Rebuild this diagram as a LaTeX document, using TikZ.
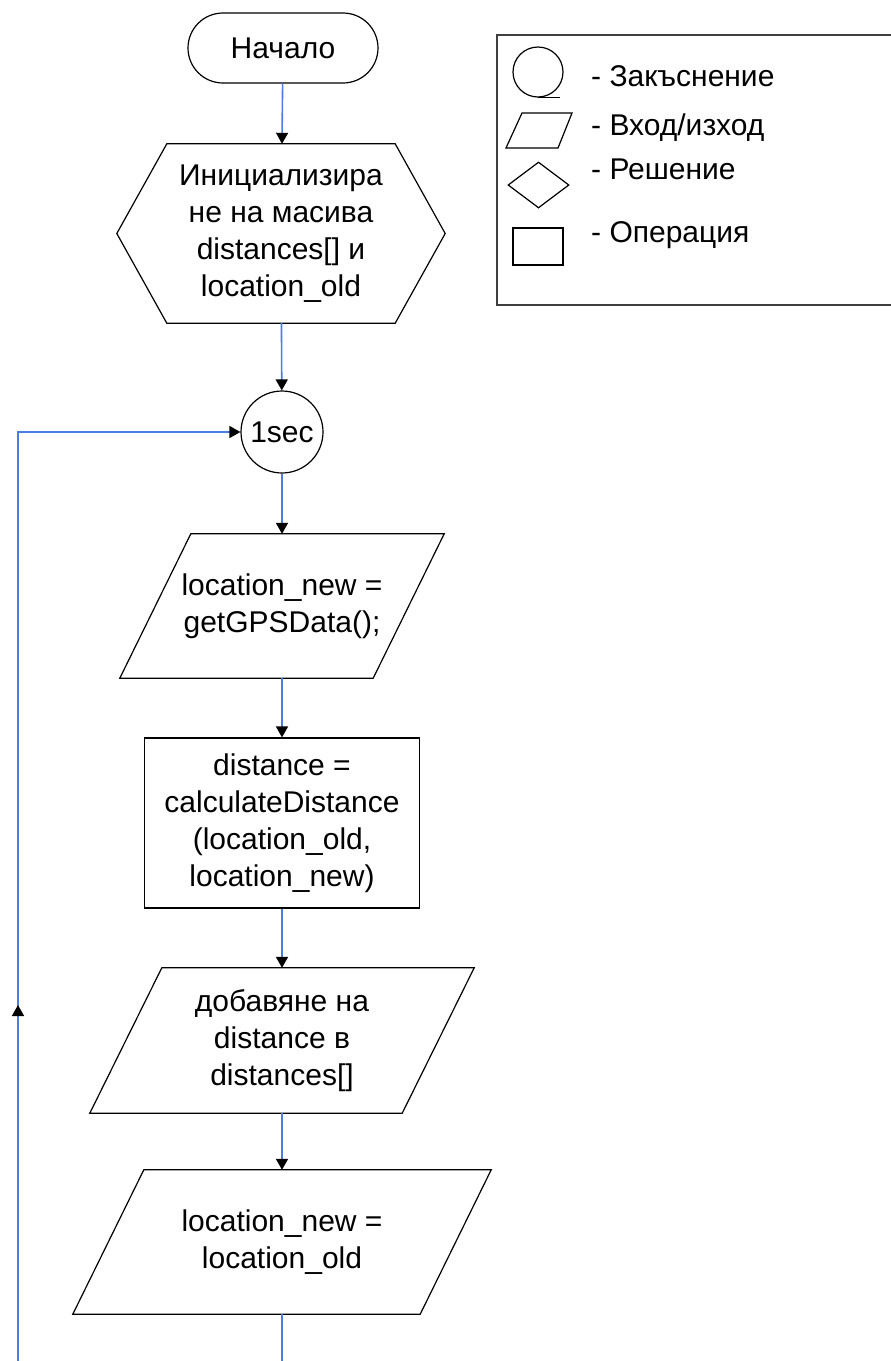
\documentclass[tikz,border=0pt]{standalone}
\usepackage{fontspec}
\setmainfont{Liberation Sans}
\usepackage{xcolor}
\definecolor{cLine}{HTML}{4A7DE8}
\definecolor{cFrame}{HTML}{404040}
\usepackage{tikz}
\usetikzlibrary{positioning,arrows.meta,calc,shapes.geometric,decorations.markings}
\tikzset{
  node-base/.style={inner sep=0pt,align=center,font=\fontsize{30}{37}\selectfont},
  node-term/.style={node-base,draw,line width=1.2pt,rounded corners=35pt},
  node-hex/.style={node-base},
  node-io/.style={node-base},
  node-box/.style={node-base,draw,line width=1.2pt},
  node-delay/.style={node-base,draw,line width=1.2pt,circle},
  shape-line/.style={draw,line width=1.2pt,line join=miter},
  legend-text/.style={anchor=base west,inner sep=0pt,font=\fontsize{30}{34}\selectfont},
  legend-frame/.style={draw=cFrame,line width=2pt},
  arrow/.style={-{Triangle[length=11pt,width=12pt,color=black]},line width=1.6pt,draw=cLine},
  plain-line/.style={line width=1.6pt,draw=cLine},
}
% parallelogram round an io node: #1 node, #2 slant offset
\newcommand\ioshape[2]{%
  \draw[shape-line] ($(#1.north west)+(#2,0)$) -- ($(#1.north east)+(#2,0)$)
    -- ($(#1.south east)+(-#2,0)$) -- ($(#1.south west)+(-#2,0)$) -- cycle;}

\begin{document}
\begin{tikzpicture}[x=1pt,y=-1pt]
  \useasboundingbox (0,0) rectangle (891,1361);

  % flow
  \node[node-term,minimum width=190pt,minimum height=70pt] (start) at (283,48) {Начало};
  \node[node-hex,minimum width=228pt,minimum height=179pt] (init) at (281,233.5)
    {Инициализира\\не на масива\\distances[] и\\location\_old};
  \draw[shape-line] (init.north west) -- (init.north east) -- ($(init.east)+(50,0)$)
    -- (init.south east) -- (init.south west) -- ($(init.west)+(-50,0)$) -- cycle;
  \node[node-delay,minimum size=82pt] (delay) at (282,432) {1sec};
  \node[node-io,minimum width=253pt,minimum height=144pt] (getgps) at (282,606)
    {location\_new =\\getGPSData();};
  \ioshape{getgps}{35.5}
  \node[node-box,minimum width=275pt,minimum height=170pt] (calc) at (282,823)
    {distance =\\calculateDistance\\(location\_old,\\location\_new)};
  \node[node-io,minimum width=312pt,minimum height=145pt] (append) at (282,1040.5)
    {добавяне на\\distance в\\distances[]};
  \ioshape{append}{36}
  \node[node-io,minimum width=347pt,minimum height=144pt] (update) at (282,1242)
    {location\_new =\\location\_old};
  \ioshape{update}{35.5}

  \coordinate (loopA) at (282,1361);
  \coordinate (loopB) at (18,1361);

  \draw[arrow] (start) -- (init);
  \draw[arrow] (init) -- (delay);
  \draw[arrow] (delay) -- (getgps);
  \draw[arrow] (getgps) -- (calc);
  \draw[arrow] (calc) -- (append);
  \draw[arrow] (append) -- (update);
  \draw[plain-line] (update) -- (loopA);
  \draw[arrow,postaction={decorate},decoration={markings,
      mark=at position 356pt with {\arrow{Triangle[length=11pt,width=12pt,color=black]}}}]
    (loopB) |- (delay);

  % legend
  \draw[legend-frame] (893,35) -- (497,35) -- (497,305) -- (893,305);
  \node[draw,circle,line width=1.2pt,minimum size=50pt,inner sep=0pt] (leg-delay) at (538,72) {};
  \draw[line width=1.2pt] (leg-delay.south) -- ++(22,0);
  \draw[shape-line] (522,113) -- (572,113) -- (558,148) -- (506,148) -- cycle;
  \node[draw,diamond,line width=1.2pt,minimum width=61pt,minimum height=46pt,inner sep=0pt]
    (leg-dec) at (538.5,185) {};
  \node[draw,line width=1.2pt,minimum width=50pt,minimum height=37pt,inner sep=0pt]
    (leg-op) at (538,246.5) {};
  \node[legend-text] (txt-delay) at (591,86) {- Закъснение};
  \node[legend-text] (txt-io) at (591,135) {- Вход/изход};
  \node[legend-text] (txt-dec) at (591,179) {- Решение};
  \node[legend-text] (txt-op) at (591,242) {- Операция};
\end{tikzpicture}
\end{document}
